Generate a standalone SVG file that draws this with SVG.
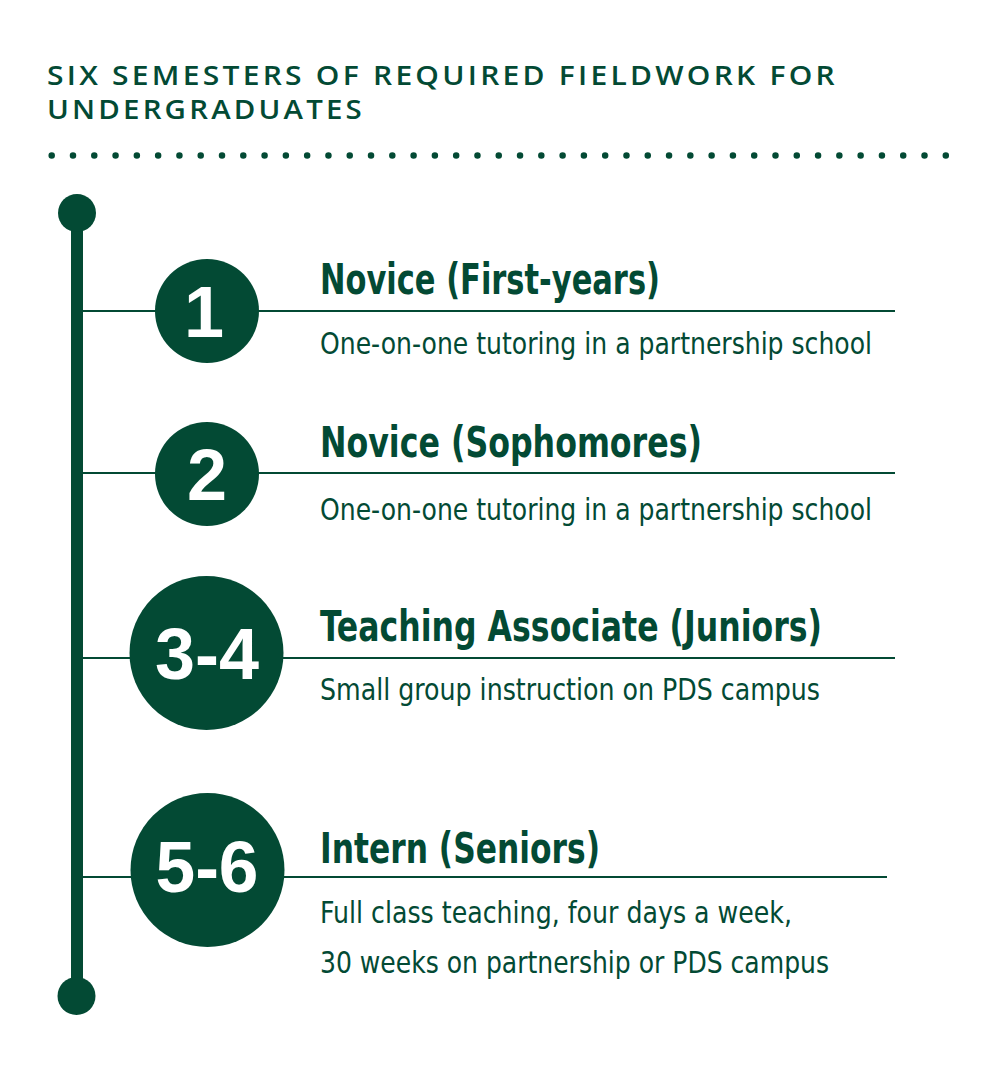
<svg xmlns="http://www.w3.org/2000/svg" width="1000" height="1079" viewBox="0 0 1000 1079">
  <style>
    .hdr { font-family: "Open Sans", "Liberation Sans", sans-serif; font-weight: 600; font-size: 27.5px; fill: #034a34; letter-spacing: 3px; }
    .title { font-family: "Liberation Sans Narrow", "DejaVu Sans Condensed", "Liberation Sans", sans-serif; font-stretch: condensed; font-weight: bold; font-size: 43px; fill: #034a34; }
    .sub { font-family: "Liberation Sans Narrow", "DejaVu Sans Condensed", "Liberation Sans", sans-serif; font-stretch: condensed; font-size: 30px; fill: #034a34; }
    .num { font-family: "Liberation Sans", "DejaVu Sans", sans-serif; font-weight: bold; font-size: 72px; fill: #ffffff; text-anchor: middle; }
    .badge { fill: #034a34; }
    .rule { stroke: #034a34; stroke-width: 2; fill: none; }
  </style>
  <rect width="1000" height="1079" fill="#ffffff"/>

  <g id="header">
    <text class="hdr" x="47" y="85" textLength="791" lengthAdjust="spacingAndGlyphs">SIX SEMESTERS OF REQUIRED FIELDWORK FOR</text>
    <text class="hdr" x="47" y="119" textLength="318" lengthAdjust="spacingAndGlyphs">UNDERGRADUATES</text>
    <line x1="51.7" y1="155.5" x2="945.8" y2="155.5" stroke="#034a34" stroke-width="6.5" stroke-linecap="round" stroke-dasharray="0 21.288"/>
  </g>

  <g id="connectors">
    <line x1="77" y1="213" x2="77" y2="996" stroke="#034a34" stroke-width="12"/>
    <circle cx="77" cy="213" r="19" fill="#034a34"/>
    <circle cx="76.5" cy="996" r="19" fill="#034a34"/>
    <line class="rule" x1="83" y1="311" x2="895" y2="311"/>
    <line class="rule" x1="83" y1="473" x2="895" y2="473"/>
    <line class="rule" x1="83" y1="658" x2="895" y2="658"/>
    <line class="rule" x1="83" y1="877" x2="887" y2="877"/>
  </g>

  <g id="node-1">
    <circle class="badge" cx="207" cy="311" r="52"/>
    <text class="num" x="204" y="337">1</text>
    <text class="title" x="320" y="294" textLength="340" lengthAdjust="spacingAndGlyphs">Novice (First-years)</text>
    <text class="sub" x="320" y="354" textLength="552" lengthAdjust="spacingAndGlyphs">One-on-one tutoring in a partnership school</text>
  </g>

  <g id="node-2">
    <circle class="badge" cx="207" cy="474" r="52"/>
    <text class="num" x="207" y="500">2</text>
    <text class="title" x="320" y="457" textLength="382" lengthAdjust="spacingAndGlyphs">Novice (Sophomores)</text>
    <text class="sub" x="320" y="520" textLength="552" lengthAdjust="spacingAndGlyphs">One-on-one tutoring in a partnership school</text>
  </g>

  <g id="node-3">
    <circle class="badge" cx="206.5" cy="653" r="77"/>
    <text class="num" x="207" y="679" textLength="104" lengthAdjust="spacingAndGlyphs">3-4</text>
    <text class="title" x="320" y="641" textLength="502" lengthAdjust="spacingAndGlyphs">Teaching Associate (Juniors)</text>
    <text class="sub" x="320" y="700" textLength="500" lengthAdjust="spacingAndGlyphs">Small group instruction on PDS campus</text>
  </g>

  <g id="node-4">
    <circle class="badge" cx="207.5" cy="870" r="77"/>
    <text class="num" x="207" y="892" textLength="103" lengthAdjust="spacingAndGlyphs">5-6</text>
    <text class="title" x="320" y="863" textLength="280" lengthAdjust="spacingAndGlyphs">Intern (Seniors)</text>
    <text class="sub" x="320" y="923" textLength="472" lengthAdjust="spacingAndGlyphs">Full class teaching, four days a week,</text>
    <text class="sub" x="320" y="973" textLength="509" lengthAdjust="spacingAndGlyphs">30 weeks on partnership or PDS campus</text>
  </g>
</svg>
